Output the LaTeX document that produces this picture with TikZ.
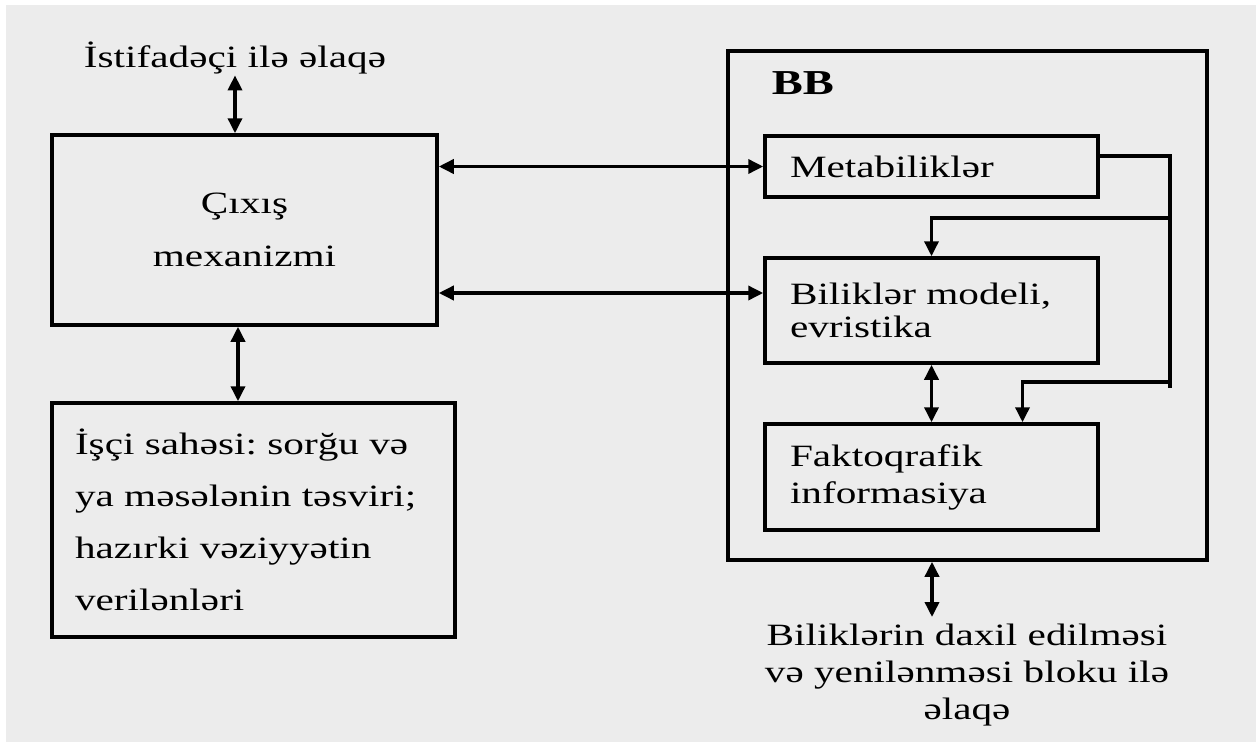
\documentclass[tikz,border=0pt]{standalone}
\usepackage{fontspec}
\setmainfont[FakeStretch=1.33]{Liberation Serif}
\usetikzlibrary{arrows.meta}
\definecolor{bggray}{RGB}{236,236,236}
\frenchspacing
\begin{document}
\begin{tikzpicture}[x=1pt,y=-1pt,line width=3.5pt,
  txt/.style={font=\fontsize{31}{37}\selectfont},
  box/.style={draw,line width=3.5pt,inner sep=0pt,txt},
  lbox/.style={box,align=left,inner xsep=25pt,text width=283pt,minimum width=333pt},
  tipe/.style={-{Triangle[length=15pt,width=14pt]}},
  dbl/.style={{Triangle[length=15pt,width=14pt]}-{Triangle[length=15pt,width=14pt]}}]
\fill[white] (0,0) rectangle (1256,742);
\fill[bggray] (6,5) rectangle (1256,742);
\useasboundingbox (0,0) rectangle (1256,742);

% left column
\node[txt,inner sep=0pt,anchor=base] (ist) at (235,67) {İstifadəçi ilə əlaqə};
\node[box,minimum width=385pt,minimum height=190pt,align=center,
      font=\fontsize{31}{53}\selectfont] (cix) at (244.5,230) {Çıxış\\mexanizmi};
\node[box,minimum width=403pt,minimum height=234pt,text width=357pt,inner xsep=23pt,
      align=left,font=\fontsize{31}{52}\selectfont] (isci) at (253.5,520)
      {İşçi sahəsi: sorğu və\\ya məsələnin təsviri;\\hazırki vəziyyətin\\verilənləri};

% right column
\node[draw,line width=3.5pt,inner sep=0pt,minimum width=479pt,minimum height=509pt] (bb) at (967.5,305.5) {};
\node[inner sep=0pt,anchor=west,font=\bfseries\fontsize{35}{35}\selectfont] (bbl) at (770,83) {BB};
\node[lbox,minimum height=61pt] (meta) at (931.5,166.5) {Metabiliklər};
\node[lbox,minimum height=105pt,font=\fontsize{31}{33}\selectfont] (bil) at (931.5,310.5) {Biliklər modeli,\\evristika};
\node[lbox,minimum height=106pt,font=\fontsize{31}{37}\selectfont] (fakt) at (931.5,477) {Faktoqrafik\\informasiya};
\node[txt,inner sep=0pt,anchor=north,align=center] (bot) at (967,622)
      {Biliklərin daxil edilməsi\\və yenilənməsi bloku ilə\\əlaqə};

% connectors
\draw[dbl] (ist.south) -- (ist.south |- cix.north);
\coordinate (c1) at ([xshift=-6.5pt]cix.south);
\draw[dbl] (c1) -- (c1 |- isci.north);
\draw[dbl] (cix.east |- meta.west) -- (meta.west);
\coordinate (b1) at ([yshift=17.5pt]bil.west);
\draw[dbl] (cix.east |- b1) -- (b1);

\coordinate (m1) at ([yshift=10.5pt]meta.east);
\coordinate (r1) at (1170,156);
\coordinate (r2) at (1170,218);
\coordinate (r3) at (1170,382);
\coordinate (r4) at (1170,388);
\draw[line join=miter] (m1) -- (r1) -- (r4);
\draw[tipe,line join=miter] (r2) -| (bil.north);
\coordinate (f1) at ([xshift=91pt]fakt.north);
\draw[tipe,line join=miter] (r3) -| (f1);
\draw[dbl] (bil.south) -- (fakt.north);

\coordinate (bend) at (932,617);
\draw[dbl] (bb.south -| bend) -- (bend);
\end{tikzpicture}
\end{document}
